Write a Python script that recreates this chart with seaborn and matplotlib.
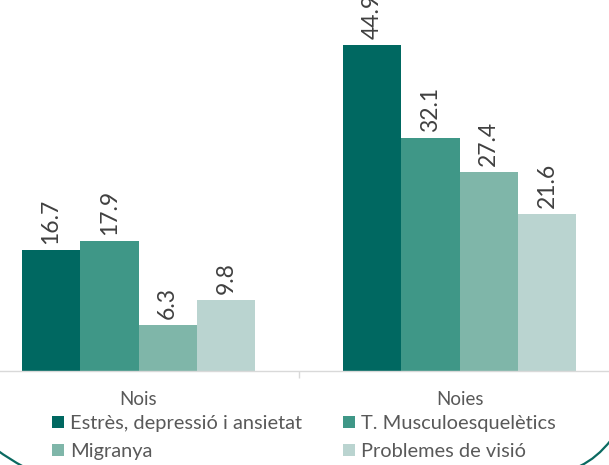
import numpy as np
import pandas as pd
import seaborn as sns
import matplotlib
matplotlib.use("Agg")
import matplotlib.pyplot as plt
from matplotlib.patches import Patch, PathPatch
from matplotlib.path import Path

# ---- data ----
groups = ["Nois", "Noies"]
problems = ["Estrès, depressió i ansietat", "T. Musculoesquelètics", "Migranya", "Problemes de visió"]
nois = [16.7, 17.9, 6.3, 9.8]
noies = [44.9, 32.1, 27.4, 21.6]
colors = ["#006861", "#3f9787", "#7fb6a9", "#bad4d0"]

df = pd.DataFrame({
    "grup": np.repeat(groups, len(problems)),
    "problema": problems * 2,
    "valor": nois + noies,
})

plt.rcParams["font.family"] = ["Lato", "DejaVu Sans"]
W, H = 609, 465
fig = plt.figure(figsize=(W / 100, H / 100), dpi=100)
fig.patch.set_facecolor("white")
ax = fig.add_axes([-22 / W, 94 / H, 642 / W, 371 / H])
ax.patch.set_alpha(0)

sns.barplot(data=df, x="grup", y="valor", hue="problema", hue_order=problems,
            order=groups, palette=colors, saturation=1, width=0.727, gap=0,
            linewidth=0, legend=False, errorbar=None, ax=ax)

ax.set_xlim(-0.5, 1.5)
ax.set_ylim(0, 51.1)
ax.set_xlabel("")
ax.set_ylabel("")
ax.set_yticks([])
for s in ["top", "right", "left"]:
    ax.spines[s].set_visible(False)
ax.spines["bottom"].set_color("#d9d9d9")
ax.spines["bottom"].set_linewidth(1)
ax.tick_params(axis="x", which="major", length=0, pad=14.5, labelsize=13.5, labelcolor="#595959")
ax.set_xticks([0.5], minor=True)
ax.tick_params(axis="x", which="minor", length=5, width=1, color="#d9d9d9")

for cont in ax.containers:
    ax.bar_label(cont, fmt="%.1f", rotation=90, padding=4.5, fontsize=16.5, color="#404040")

handles = [Patch(facecolor=c, edgecolor="none") for c in colors]
common = dict(loc="upper left", frameon=False, borderpad=0, borderaxespad=0,
              handlelength=0.6, handleheight=0.55, handletextpad=0.3,
              labelspacing=0.53, fontsize=14.4, labelcolor="#595959")
fig.legend([handles[0], handles[2]], [problems[0], problems[2]],
           bbox_to_anchor=(52 / W, 1 - 415 / H), **common)
fig.legend([handles[1], handles[3]], [problems[1], problems[3]],
           bbox_to_anchor=(343 / W, 1 - 415 / H), **common)

def curve(pts):
    verts = [(x / W, 1 - y / H) for x, y in pts]
    p = Path(verts, [Path.MOVETO, Path.CURVE3, Path.CURVE3])
    fig.add_artist(PathPatch(p, fill=False, edgecolor="#0b6a61", lw=1.6,
                             transform=fig.transFigure))

curve([(-3, 450), (9, 459), (24, 467)])
curve([(611, 440), (597, 458), (580, 466)])

fig.savefig("out.png", dpi=100)
